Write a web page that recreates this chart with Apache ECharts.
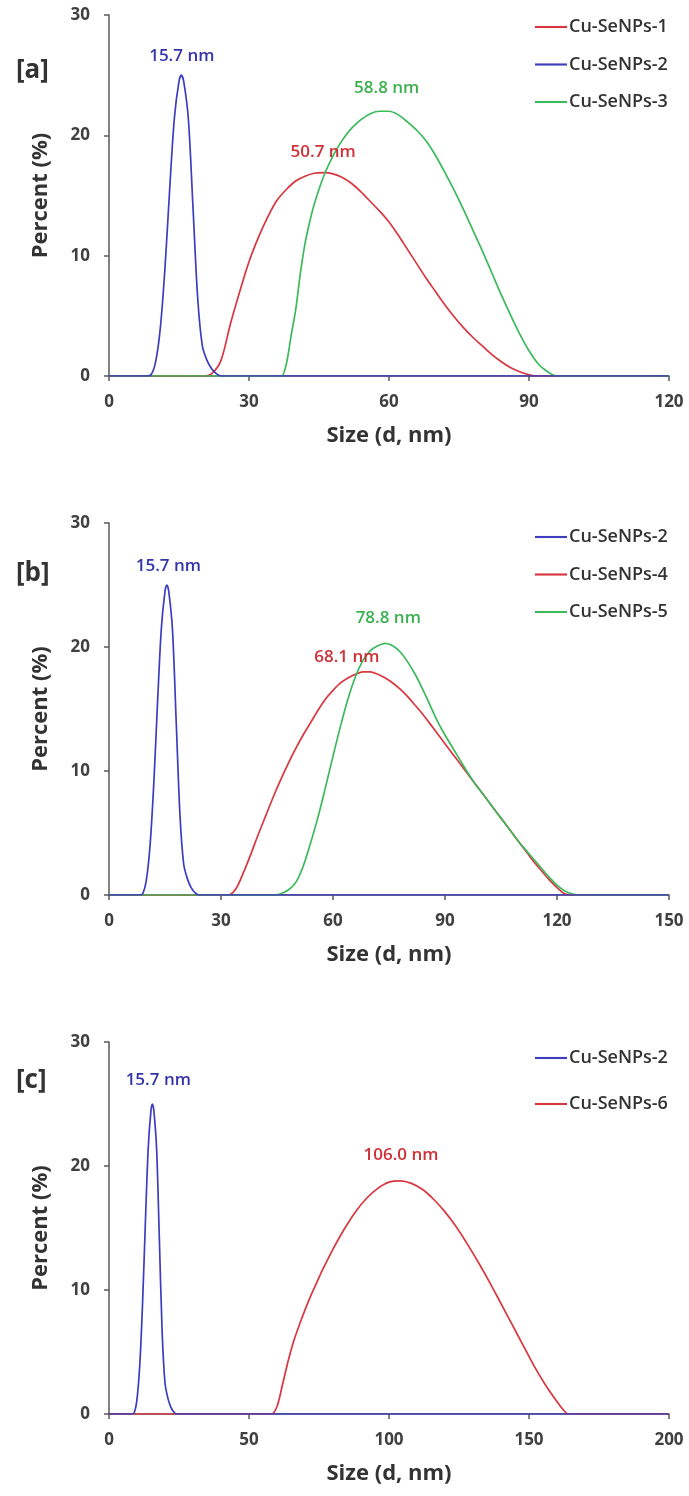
<!DOCTYPE html>
<html>
<head>
<meta charset="utf-8">
<script src="https://cdn.jsdelivr.net/npm/echarts@6/dist/echarts.min.js"></script>
<style>
    html, body {margin: 0; padding: 0; background: #fff;}
    #main {width: 689px; height: 1496px;}
</style>
</head>
<body>
<div id="main"></div>
<script>
// Cu-SeNPs-2 (same sample shown in all three panels)
var sizeS2 = [8, 9, 10, 11, 12, 13, 14, 15, 15.5, 16, 17, 18, 19, 20, 21, 22, 23, 24];
var pctS2 = [0, 0.1, 1.2, 4, 9, 15.5, 21.4, 24.5, 25, 24.5, 21.4, 14, 6.5, 2.5, 1.3, 0.6, 0.2, 0];

// panel [a]
var sizeS1 = [20, 22, 24, 26, 28, 30, 32, 34, 36, 38, 40, 42, 44, 46, 48, 50, 52, 54, 56, 58, 60, 62, 64, 66, 68, 70, 72, 74, 76, 78, 80, 82, 84, 86, 88, 90, 92];
var pctS1 = [0, 0.2, 1.3, 4.3, 7, 9.5, 11.5, 13.2, 14.6, 15.5, 16.2, 16.6, 16.85, 16.9, 16.8, 16.5, 16.0, 15.3, 14.5, 13.7, 12.8, 11.7, 10.5, 9.3, 8.1, 7.0, 5.9, 4.9, 4.0, 3.2, 2.5, 1.8, 1.2, 0.7, 0.35, 0.1, 0];
var sizeS3 = [36, 37, 38, 39, 40, 41, 42, 43, 44, 46, 48, 50, 52, 54, 56, 58, 60, 62, 64, 66, 68, 70, 72, 74, 76, 78, 80, 82, 84, 86, 88, 90, 92, 94, 96, 98];
var pctS3 = [0, 0, 1, 3.3, 5.5, 8.5, 11, 12.8, 14.3, 16.6, 18.3, 19.6, 20.6, 21.3, 21.8, 22, 22, 21.7, 21.1, 20.4, 19.5, 18.3, 16.9, 15.4, 13.8, 12.1, 10.4, 8.6, 6.8, 5.1, 3.5, 2.1, 1, 0.35, 0, 0];

// panel [b]
var sizeS4 = [32, 34, 36, 38, 40, 42, 44, 46, 48, 50, 52, 54, 56, 58, 60, 62, 64, 66, 68, 70, 72, 74, 76, 78, 80, 82, 84, 86, 88, 90, 92, 94, 96, 98, 100, 102, 104, 106, 108, 110, 112, 114, 116, 118, 120, 122, 124];
var pctS4 = [0, 0.5, 1.8, 3.3, 4.9, 6.4, 7.9, 9.3, 10.6, 11.8, 12.9, 13.9, 14.9, 15.8, 16.5, 17.1, 17.5, 17.8, 18, 18, 17.8, 17.5, 17.1, 16.6, 16.0, 15.3, 14.6, 13.8, 13.0, 12.2, 11.4, 10.6, 9.8, 9.0, 8.2, 7.4, 6.6, 5.8, 5.0, 4.2, 3.4, 2.6, 1.9, 1.2, 0.6, 0.1, 0];
var sizeS5 = [44, 46, 48, 50, 52, 54, 56, 58, 60, 62, 64, 66, 68, 70, 72, 74, 76, 78, 80, 82, 84, 86, 88, 90, 92, 94, 96, 98, 100, 102, 104, 106, 108, 110, 112, 114, 116, 118, 120, 122, 124, 126];
var pctS5 = [0, 0.1, 0.4, 1, 2.3, 4.2, 6.3, 8.7, 11.2, 13.6, 15.8, 17.6, 18.9, 19.7, 20.1, 20.3, 20.1, 19.6, 18.8, 17.8, 16.6, 15.3, 14.0, 12.9, 11.9, 10.9, 9.9, 9.0, 8.2, 7.4, 6.6, 5.8, 5.0, 4.2, 3.5, 2.8, 2.1, 1.4, 0.8, 0.35, 0.1, 0];

// panel [c]
var sizeS6 = [58, 60, 62, 64, 66, 68, 70, 72, 74, 76, 78, 80, 84, 88, 92, 96, 100, 104, 108, 112, 116, 120, 124, 128, 132, 136, 140, 144, 148, 152, 156, 160, 162, 164, 166];
var pctS6 = [0, 0.6, 2.4, 4.3, 5.9, 7.2, 8.4, 9.5, 10.5, 11.5, 12.4, 13.3, 14.9, 16.3, 17.4, 18.2, 18.7, 18.8, 18.6, 18.1, 17.3, 16.3, 15.1, 13.7, 12.2, 10.6, 8.9, 7.2, 5.5, 3.8, 2.3, 1, 0.4, 0, 0];

// axis ranges and tick labels
var xMax = [120, 150, 200];
var xStep = [30, 30, 50];
var yTicks = [0, 10, 20, 30];
var panelTags = ['[a]', '[b]', '[c]'];

// peak annotations (text, size, percent)
var peaksA = [['15.7 nm', 15.6, 26.6, 'S2'], ['50.7 nm', 45.9, 18.6, 'S1'], ['58.8 nm', 59.5, 23.9, 'S3']];
var peaksB = [['15.7 nm', 15.9, 26.5, 'S2'], ['68.1 nm', 63.7, 19.2, 'S4'], ['78.8 nm', 74.8, 22.3, 'S5']];
var peaksC = [['15.7 nm', 17.6, 26.9, 'S2'], ['106.0 nm', 104.3, 20.9, 'S6']];

var RED = '#d9363f', BLUE = '#3d3dbf', GREEN = '#3cb95a';
var LBL = {S1: '#cf3038', S4: '#cf3038', S6: '#cf3038', S2: '#3535aa', S3: '#3cb050', S5: '#3cb050'};
var FONT = '"Open Sans", "Liberation Sans", sans-serif';

function pairs(sizes, pct, max) {
    var out = [[0, 0]];
    for (var i = 0; i < sizes.length; i++) {
        out.push([sizes[i], pct[i]]);
    }
    out.push([max, 0]);
    return out;
}

function peakMark(list, key) {
    var d = [];
    list.forEach(function (p) {
        if (p[3] !== key) return;
        d.push({
            coord: [p[1], p[2]],
            symbol: 'circle',
            symbolSize: 0,
            label: {
                show: true, position: 'inside', formatter: p[0],
                color: LBL[key], fontSize: 17, fontWeight: 600, fontFamily: FONT
            }
        });
    });
    return {silent: true, animation: false, data: d};
}

function lineSeries(name, color, idx, data, peaks, key, z) {
    return {
        name: name,
        type: 'line',
        xAxisIndex: idx,
        yAxisIndex: idx,
        data: data,
        showSymbol: false,
        symbol: 'none',
        smooth: 0.3,
        z: z,
        lineStyle: {color: color, width: 1.7},
        itemStyle: {color: color},
        markPoint: peakMark(peaks, key)
    };
}

var grids = [
    {left: 109, top: 15, width: 560, height: 361},
    {left: 109, top: 523, width: 560, height: 372},
    {left: 109, top: 1042, width: 560, height: 372}
];

var xAxes = [], yAxes = [];
for (var i = 0; i < 3; i++) {
    xAxes.push({
        type: 'value', gridIndex: i, min: 0, max: xMax[i], interval: xStep[i],
        name: 'Size (d, nm)', nameLocation: 'middle', nameGap: 49,
        nameTextStyle: {fontSize: 22, fontWeight: 'bold', color: '#333', fontFamily: FONT},
        axisLine: {lineStyle: {color: '#595959', width: 1.5}},
        axisTick: {show: true, length: 5, lineStyle: {color: '#595959', width: 1.5}},
        axisLabel: {margin: 18, fontSize: 17, fontWeight: 'bold', color: '#404040', fontFamily: FONT},
        splitLine: {show: false}
    });
    yAxes.push({
        type: 'value', gridIndex: i, min: yTicks[0], max: yTicks[yTicks.length - 1], interval: 10,
        name: 'Percent (%)', nameLocation: 'middle', nameGap: 57, nameRotate: 90,
        nameTextStyle: {fontSize: 22, fontWeight: 'bold', color: '#333', fontFamily: FONT},
        axisLine: {show: true, lineStyle: {color: '#595959', width: 1.5}},
        axisTick: {show: true, length: 5, lineStyle: {color: '#595959', width: 1.5}},
        axisLabel: {margin: 19, fontSize: 17, fontWeight: 'bold', color: '#404040', fontFamily: FONT},
        splitLine: {show: false}
    });
}

function legendAt(top, gap, names) {
    return {
        orient: 'vertical', left: 530, top: top, itemGap: gap,
        itemWidth: 32, itemHeight: 14, icon: 'path://M0,6 L30,6 L30,8 L0,8 Z',
        selectedMode: false,
        textStyle: {fontSize: 18, fontWeight: 600, color: '#333', fontFamily: FONT, padding: [0, 0, 0, -3]},
        data: names
    };
}

var option = {
    backgroundColor: '#fff',
    animation: false,
    grid: grids,
    xAxis: xAxes,
    yAxis: yAxes,
    legend: [
        legendAt(13, 19.5, ['Cu-SeNPs-1', 'Cu-SeNPs-2', 'Cu-SeNPs-3']),
        legendAt(523, 19.5, ['Cu-SeNPs-2 ', 'Cu-SeNPs-4', 'Cu-SeNPs-5']),
        legendAt(1044, 28, ['Cu-SeNPs-2  ', 'Cu-SeNPs-6'])
    ],
    graphic: panelTags.map(function (t, k) {
        return {
            type: 'text', left: 16, top: [58, 561, 1068][k],
            style: {text: t, fill: '#333', font: 'bold 26px ' + FONT}
        };
    }),
    series: [
        lineSeries('Cu-SeNPs-1', RED, 0, pairs(sizeS1, pctS1, xMax[0]), peaksA, 'S1', 2),
        lineSeries('Cu-SeNPs-3', GREEN, 0, pairs(sizeS3, pctS3, xMax[0]), peaksA, 'S3', 3),
        lineSeries('Cu-SeNPs-2', BLUE, 0, pairs(sizeS2, pctS2, xMax[0]), peaksA, 'S2', 4),

        lineSeries('Cu-SeNPs-4', RED, 1, pairs(sizeS4, pctS4, xMax[1]), peaksB, 'S4', 2),
        lineSeries('Cu-SeNPs-5', GREEN, 1, pairs(sizeS5, pctS5, xMax[1]), peaksB, 'S5', 3),
        lineSeries('Cu-SeNPs-2 ', BLUE, 1, pairs(sizeS2, pctS2, xMax[1]), peaksB, 'S2', 4),

        lineSeries('Cu-SeNPs-6', RED, 2, pairs(sizeS6, pctS6, xMax[2]), peaksC, 'S6', 2),
        lineSeries('Cu-SeNPs-2  ', BLUE, 2, pairs(sizeS2, pctS2, xMax[2]), peaksC, 'S2', 4)
    ]
};

var myChart = echarts.init(document.getElementById('main'));
myChart.setOption(option);
</script>
</body>
</html>
